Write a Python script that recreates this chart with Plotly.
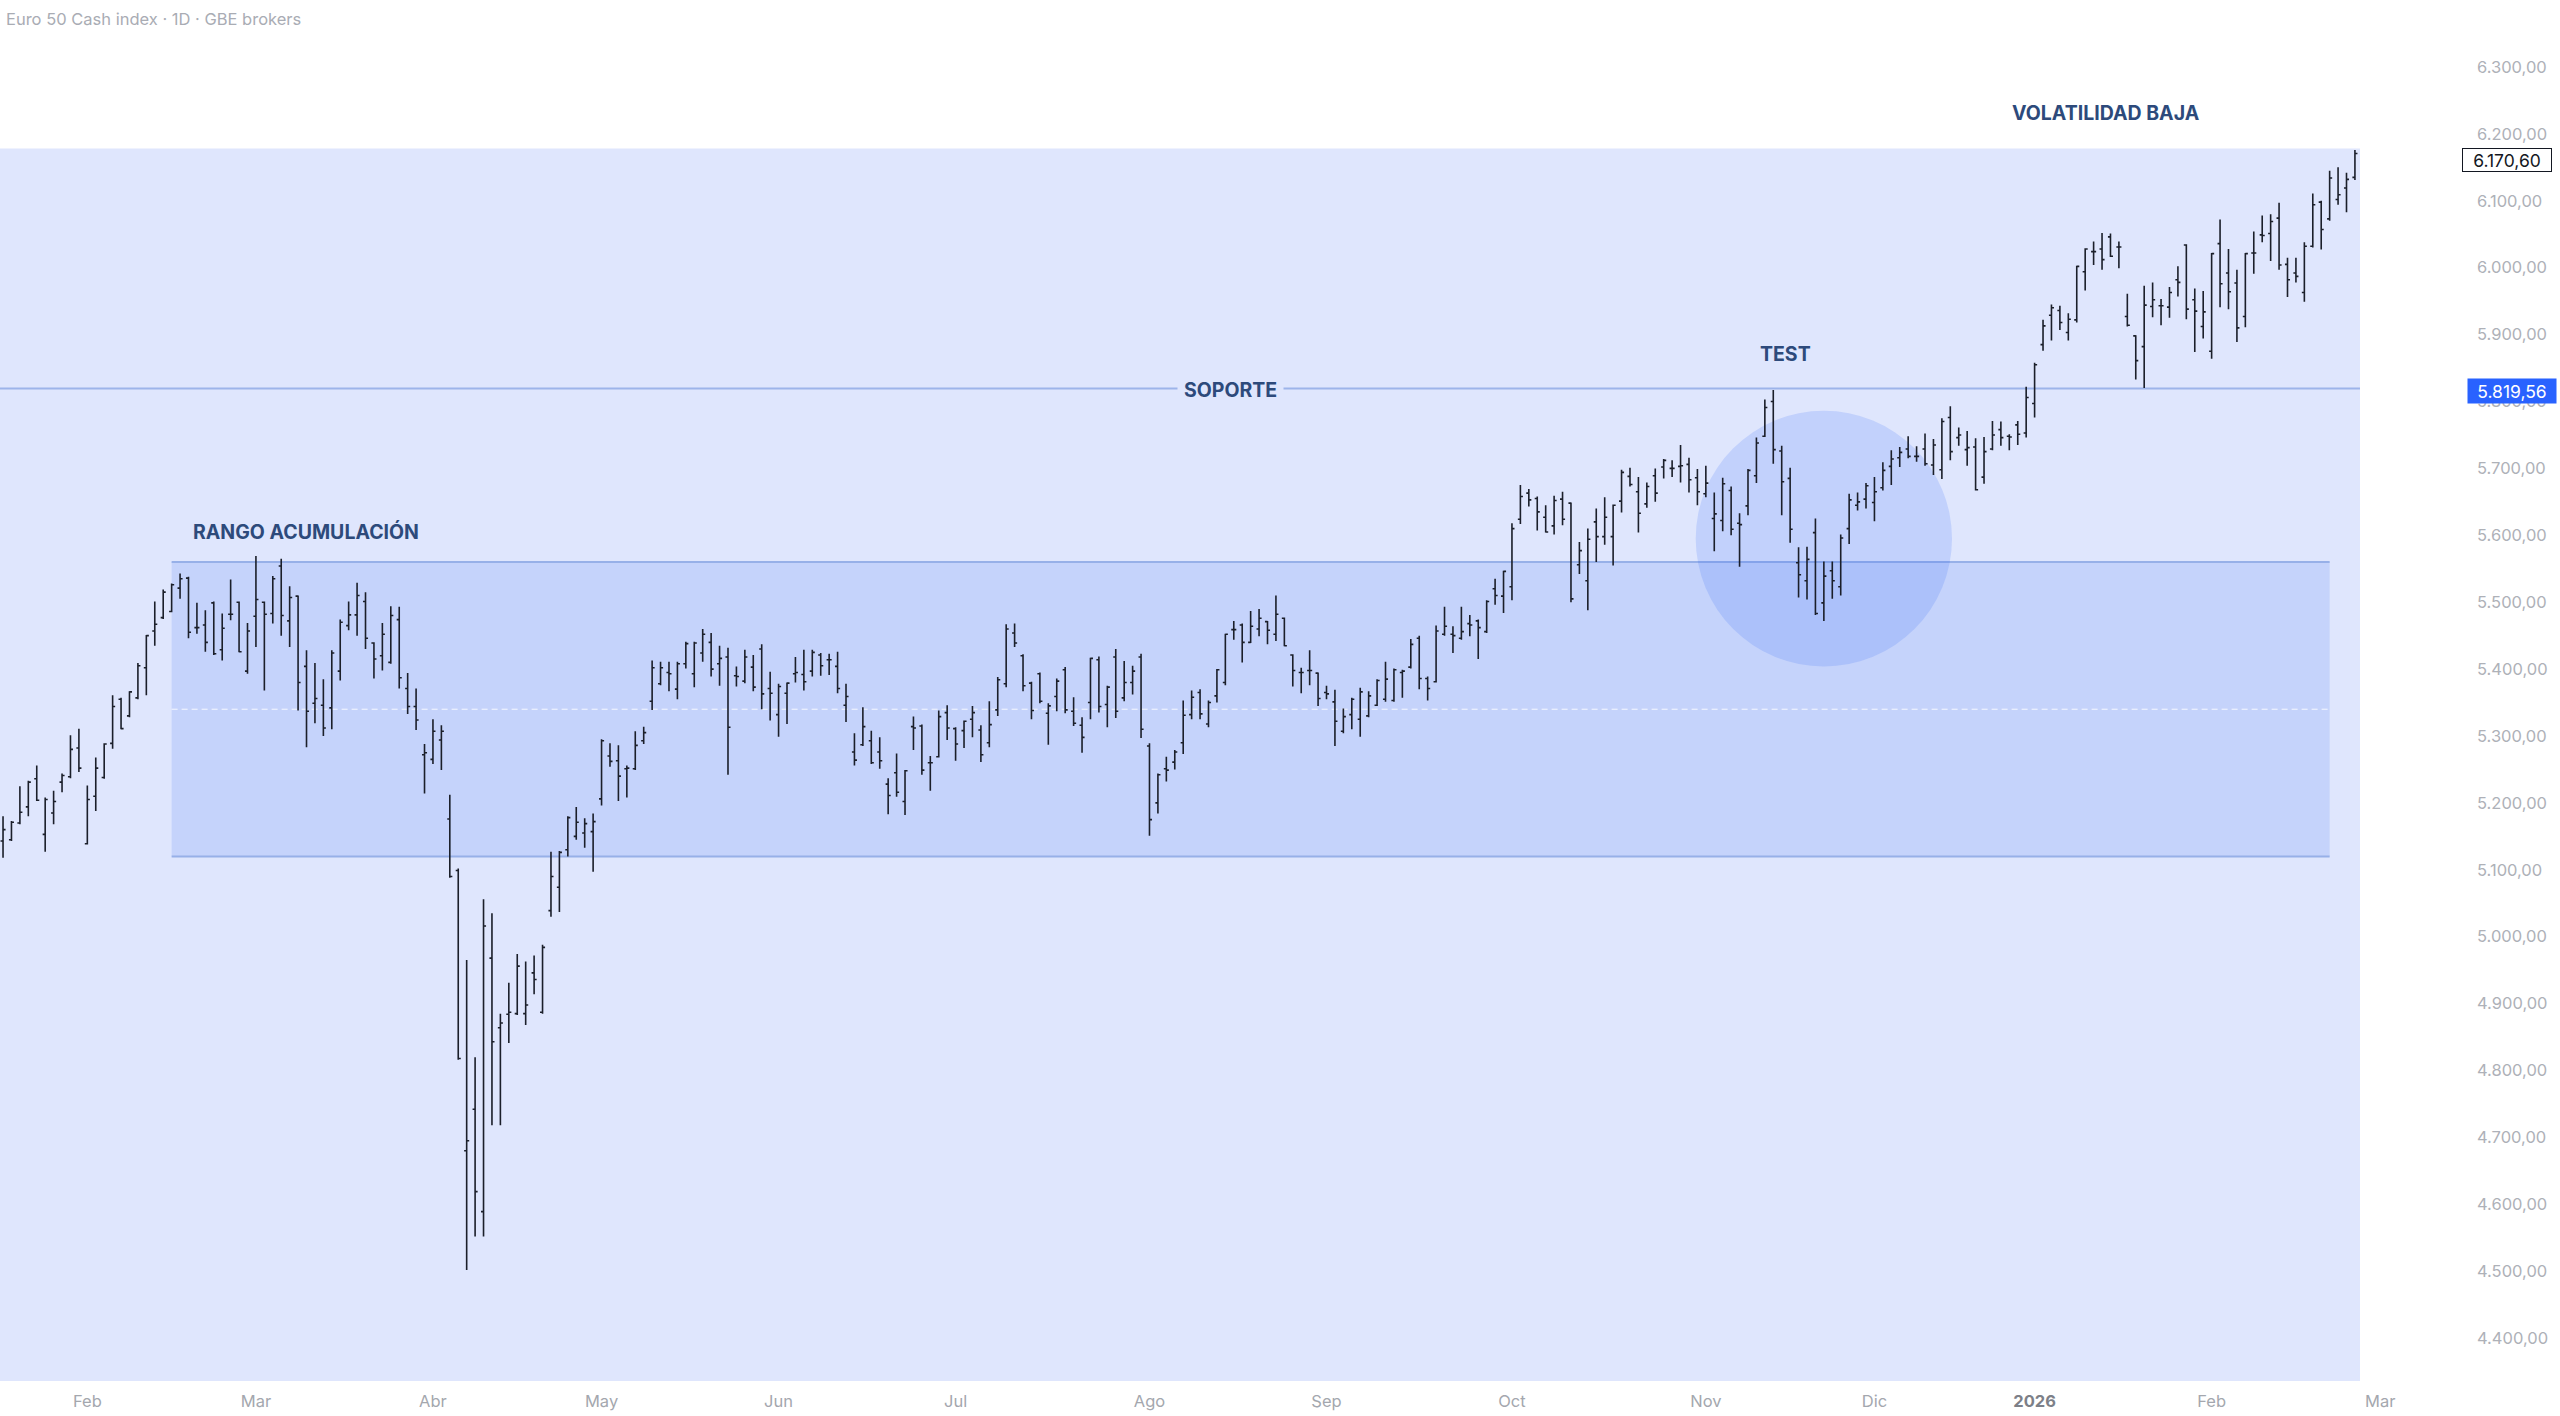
import pandas as pd
import plotly.graph_objects as go

# ---------------- data ----------------
TITLE = "Euro 50 Cash index · 1D · GBE brokers"
FIRST_DAY = "2025-01-20"
LAST_CAL_DAY = "2026-03-31"
HOLIDAYS = ["2025-04-18", "2025-04-21", "2025-05-01", "2025-12-24",
            "2025-12-25", "2025-12-26", "2025-12-31", "2026-01-01"]

OPEN = [
    5143, 5145, 5170, 5194, 5236, 5153, 5185, 5231, 5239, 5282,
    5139, 5210, 5238, 5289, 5355, 5330, 5357, 5402, 5457, 5477,
    5486, 5521, 5536, 5462, 5466, 5499, 5429, 5482, 5500, 5397,
    5479, 5500, 5483, 5554, 5472, 5509, 5404, 5349, 5346, 5342,
    5397, 5465, 5481, 5501, 5439, 5420, 5410, 5474, 5371, 5344,
    5272, 5265, 5294, 5176, 5099, 4680, 4742, 4589, 4968, 4864,
    4884, 4885, 4885, 4946, 4887, 5039, 5074, 5130, 5150, 5155,
    5157, 5206, 5270, 5263, 5251, 5251, 5293, 5352, 5378, 5395,
    5370, 5408, 5393, 5424, 5440, 5408, 5418, 5390, 5382, 5403,
    5430, 5371, 5332, 5364, 5393, 5392, 5397, 5421, 5414, 5404,
    5346, 5276, 5287, 5293, 5276, 5228, 5245, 5202, 5314, 5315,
    5260, 5269, 5335, 5311, 5308, 5325, 5309, 5290, 5339, 5378,
    5454, 5420, 5379, 5393, 5334, 5359, 5399, 5337, 5316, 5350,
    5414, 5347, 5418, 5357, 5380, 5418, 5285, 5200, 5251, 5261,
    5290, 5332, 5365, 5318, 5360, 5380, 5459, 5466, 5440, 5460,
    5471, 5452, 5476, 5421, 5395, 5398, 5394, 5365, 5351, 5307,
    5332, 5325, 5330, 5346, 5355, 5353, 5395, 5403, 5446, 5386,
    5381, 5452, 5452, 5446, 5468, 5472, 5456, 5520, 5509, 5523,
    5624, 5663, 5655, 5627, 5614, 5654, 5648, 5556, 5532, 5620,
    5598, 5598, 5651, 5688, 5665, 5647, 5689, 5702, 5700, 5703,
    5706, 5686, 5662, 5625, 5622, 5667, 5618, 5644, 5689, 5748,
    5800, 5726, 5685, 5559, 5532, 5604, 5499, 5547, 5523, 5610,
    5645, 5654, 5649, 5671, 5703, 5716, 5729, 5718, 5729, 5705,
    5698, 5776, 5746, 5728, 5732, 5687, 5729, 5758, 5748, 5765,
    5753, 5797, 5885, 5929, 5936, 5903, 5922, 5994, 6024, 6028,
    6046, 6031, 5927, 5898, 5882, 5942, 5943, 5941, 5982, 6034,
    5952, 5912, 5875, 6036, 5992, 5977, 5927, 6022, 6049, 6051,
    6074, 6005, 5992, 5963, 6032, 6098, 6073, 6102, 6119, 6135,
]
HIGH = [
    5180, 5173, 5225, 5233, 5256, 5208, 5218, 5244, 5301, 5311,
    5226, 5268, 5289, 5361, 5357, 5367, 5409, 5451, 5501, 5519,
    5528, 5543, 5538, 5499, 5488, 5501, 5483, 5534, 5501, 5469,
    5569, 5501, 5539, 5565, 5524, 5510, 5428, 5409, 5385, 5428,
    5474, 5501, 5529, 5515, 5440, 5469, 5494, 5493, 5394, 5371,
    5288, 5325, 5316, 5212, 5102, 4965, 4820, 5056, 5035, 4885,
    4931, 4974, 4963, 4972, 4988, 5127, 5128, 5180, 5194, 5177,
    5184, 5295, 5289, 5286, 5256, 5307, 5314, 5413, 5411, 5411,
    5411, 5441, 5441, 5460, 5454, 5435, 5432, 5404, 5429, 5421,
    5437, 5396, 5378, 5380, 5418, 5429, 5429, 5424, 5423, 5426,
    5378, 5304, 5343, 5308, 5298, 5237, 5274, 5249, 5329, 5317,
    5270, 5338, 5346, 5313, 5323, 5345, 5316, 5352, 5388, 5467,
    5468, 5422, 5381, 5395, 5349, 5386, 5403, 5358, 5328, 5417,
    5419, 5375, 5430, 5412, 5405, 5423, 5289, 5244, 5269, 5279,
    5353, 5368, 5370, 5353, 5400, 5453, 5472, 5468, 5487, 5490,
    5472, 5510, 5477, 5422, 5402, 5428, 5395, 5375, 5369, 5341,
    5357, 5372, 5367, 5385, 5411, 5401, 5399, 5445, 5450, 5389,
    5465, 5493, 5464, 5493, 5481, 5474, 5503, 5535, 5547, 5618,
    5675, 5669, 5658, 5645, 5659, 5665, 5649, 5590, 5610, 5640,
    5657, 5646, 5698, 5701, 5687, 5679, 5700, 5714, 5712, 5735,
    5716, 5699, 5704, 5664, 5686, 5673, 5633, 5699, 5746, 5803,
    5817, 5734, 5701, 5582, 5583, 5625, 5561, 5561, 5601, 5662,
    5664, 5678, 5687, 5709, 5727, 5732, 5748, 5733, 5752, 5744,
    5775, 5793, 5761, 5756, 5745, 5747, 5771, 5770, 5751, 5771,
    5822, 5858, 5922, 5945, 5943, 5932, 6003, 6029, 6039, 6052,
    6051, 6039, 5961, 5899, 5973, 5978, 5953, 5971, 6002, 6035,
    5969, 5965, 6022, 6072, 6028, 5997, 6022, 6054, 6078, 6080,
    6097, 6015, 6015, 6038, 6111, 6100, 6145, 6150, 6142, 6176,
]
LOW = [
    5118, 5143, 5168, 5180, 5203, 5127, 5168, 5216, 5237, 5246,
    5138, 5188, 5236, 5281, 5310, 5328, 5355, 5361, 5435, 5475,
    5485, 5505, 5446, 5453, 5426, 5421, 5413, 5473, 5425, 5393,
    5433, 5368, 5468, 5450, 5433, 5338, 5283, 5319, 5300, 5310,
    5383, 5458, 5450, 5430, 5386, 5398, 5408, 5371, 5333, 5309,
    5214, 5258, 5249, 5088, 4816, 4502, 4552, 4552, 4718, 4718,
    4841, 4883, 4868, 4914, 4885, 5030, 5037, 5120, 5145, 5133,
    5097, 5196, 5254, 5203, 5208, 5249, 5288, 5339, 5376, 5367,
    5355, 5401, 5373, 5411, 5389, 5375, 5242, 5374, 5379, 5367,
    5340, 5323, 5299, 5318, 5380, 5368, 5389, 5390, 5391, 5364,
    5321, 5256, 5285, 5258, 5251, 5183, 5209, 5182, 5279, 5242,
    5218, 5268, 5294, 5263, 5282, 5298, 5261, 5283, 5330, 5373,
    5433, 5367, 5325, 5349, 5287, 5337, 5334, 5315, 5275, 5325,
    5335, 5313, 5327, 5352, 5362, 5297, 5151, 5184, 5232, 5250,
    5273, 5325, 5325, 5313, 5350, 5376, 5444, 5410, 5439, 5449,
    5437, 5442, 5434, 5374, 5364, 5376, 5345, 5355, 5285, 5304,
    5310, 5299, 5328, 5345, 5351, 5351, 5357, 5401, 5370, 5353,
    5380, 5450, 5424, 5444, 5449, 5415, 5454, 5496, 5484, 5503,
    5617, 5643, 5607, 5604, 5601, 5615, 5500, 5542, 5488, 5560,
    5586, 5555, 5634, 5673, 5604, 5641, 5650, 5685, 5687, 5679,
    5664, 5645, 5657, 5576, 5606, 5600, 5553, 5630, 5678, 5747,
    5707, 5630, 5589, 5507, 5504, 5481, 5472, 5505, 5510, 5587,
    5637, 5640, 5621, 5667, 5675, 5702, 5715, 5710, 5704, 5690,
    5684, 5712, 5734, 5704, 5667, 5677, 5727, 5734, 5727, 5735,
    5746, 5776, 5876, 5891, 5907, 5891, 5918, 5966, 6004, 5997,
    6016, 5999, 5912, 5833, 5820, 5926, 5914, 5925, 5957, 5923,
    5874, 5894, 5864, 5941, 5938, 5889, 5911, 5991, 6038, 6010,
    5997, 5956, 5978, 5949, 6030, 6027, 6070, 6094, 6083, 6131,
]
CLOSE = [
    5160, 5171, 5186, 5231, 5204, 5205, 5202, 5241, 5280, 5252,
    5205, 5252, 5288, 5344, 5311, 5366, 5405, 5450, 5467, 5515,
    5526, 5535, 5455, 5462, 5440, 5423, 5461, 5482, 5426, 5457,
    5504, 5482, 5535, 5480, 5507, 5380, 5337, 5356, 5312, 5424,
    5470, 5481, 5510, 5446, 5415, 5452, 5480, 5387, 5344, 5324,
    5275, 5307, 5307, 5090, 4818, 4695, 4619, 5016, 4843, 4871,
    4887, 4956, 4898, 4936, 4984, 5090, 5126, 5178, 5171, 5169,
    5172, 5293, 5262, 5240, 5252, 5286, 5305, 5402, 5402, 5393,
    5408, 5438, 5439, 5452, 5400, 5416, 5313, 5389, 5418, 5373,
    5363, 5364, 5374, 5379, 5395, 5381, 5425, 5405, 5414, 5371,
    5359, 5264, 5314, 5260, 5263, 5211, 5216, 5248, 5312, 5249,
    5260, 5329, 5312, 5288, 5322, 5335, 5272, 5317, 5384, 5460,
    5439, 5375, 5338, 5352, 5345, 5382, 5339, 5319, 5298, 5416,
    5344, 5373, 5337, 5380, 5397, 5310, 5175, 5242, 5249, 5276,
    5331, 5358, 5333, 5350, 5399, 5452, 5459, 5440, 5464, 5476,
    5458, 5482, 5435, 5398, 5395, 5398, 5356, 5363, 5322, 5329,
    5355, 5366, 5360, 5383, 5385, 5399, 5397, 5437, 5386, 5371,
    5457, 5464, 5450, 5456, 5466, 5462, 5501, 5510, 5546, 5610,
    5658, 5653, 5635, 5605, 5652, 5624, 5505, 5577, 5594, 5598,
    5627, 5645, 5694, 5676, 5633, 5673, 5663, 5712, 5700, 5704,
    5683, 5665, 5678, 5632, 5677, 5609, 5616, 5697, 5738, 5791,
    5728, 5680, 5609, 5541, 5564, 5483, 5539, 5532, 5596, 5653,
    5650, 5674, 5665, 5697, 5714, 5724, 5718, 5718, 5707, 5735,
    5770, 5725, 5750, 5731, 5668, 5725, 5750, 5746, 5747, 5751,
    5806, 5855, 5913, 5940, 5918, 5923, 6002, 6028, 6024, 6012,
    6017, 6031, 5914, 5861, 5944, 5952, 5943, 5963, 5978, 5938,
    5935, 5934, 6021, 5976, 5964, 5910, 6021, 6022, 6048, 6069,
    6004, 5982, 5987, 6032, 6094, 6057, 6134, 6109, 6132, 6170.6,
]

MONTH_KEYS = ["2025-02", "2025-03", "2025-04", "2025-05", "2025-06", "2025-07",
              "2025-08", "2025-09", "2025-10", "2025-11", "2025-12", "2026-01",
              "2026-02", "2026-03"]
MONTH_LABELS = ["Feb", "Mar", "Abr", "May", "Jun", "Jul", "Ago", "Sep", "Oct",
                "Nov", "Dic", "2026", "Feb", "Mar"]
PRICE_TICKS = [4400, 4500, 4600, 4700, 4800, 4900, 5000, 5100, 5200, 5300,
               5400, 5500, 5600, 5700, 5800, 5900, 6000, 6100, 6200, 6300]

SUPPORT = 5819.56
LAST_PRICE = 6170.60
RANGE_TOP = 5560
RANGE_BOTTOM = 5120
RANGE_FROM = "2025-02-17"
RANGE_TO = "2026-02-20"
ZONE_TOP = 6178
TEST_DAY = "2025-11-21"
TEST_PRICE = 5595

# ---------------- build ----------------
all_days = [d for d in pd.bdate_range(FIRST_DAY, LAST_CAL_DAY)
            if d.strftime("%Y-%m-%d") not in HOLIDAYS]
day_str = [d.strftime("%Y-%m-%d") for d in all_days]
n = len(CLOSE)
idx = list(range(n))
dates = day_str[:n]

tickvals = []
for key in MONTH_KEYS:
    tickvals.append(next(i for i, s in enumerate(day_str) if s.startswith(key)))
ticktext = [("<span style='color:#7d8088'><b>%s</b></span>" % t) if t == "2026" else t
            for t in MONTH_LABELS]

def pos(day):
    return day_str.index(day)

NAVY = "#2d4a7b"
FONT = "Inter"
ZONE_FILL = "#dfe6fd"
RANGE_FILL = "#c5d3fb"
EDGE = "#97b0e8"

fig = go.Figure()
fig.add_trace(go.Ohlc(
    x=idx, open=OPEN, high=HIGH, low=LOW, close=CLOSE,
    text=dates, hoverinfo="text",
    increasing=dict(line=dict(color="#1b1f2a", width=1.6)),
    decreasing=dict(line=dict(color="#1b1f2a", width=1.6)),
    tickwidth=0.3, showlegend=False,
))

x_left = -10
x_right = n - 1 + 0.6
shapes = [
    dict(type="rect", xref="x", yref="y", x0=x_left, x1=x_right, y0=4000, y1=ZONE_TOP,
         fillcolor=ZONE_FILL, line=dict(width=0), layer="below"),
    dict(type="rect", xref="x", yref="y", x0=pos(RANGE_FROM), x1=pos(RANGE_TO),
         y0=RANGE_BOTTOM, y1=RANGE_TOP, fillcolor=RANGE_FILL, line=dict(width=0), layer="below"),
    dict(type="line", xref="x", yref="y", x0=pos(RANGE_FROM), x1=pos(RANGE_TO),
         y0=RANGE_TOP, y1=RANGE_TOP, line=dict(color=EDGE, width=2), layer="below"),
    dict(type="line", xref="x", yref="y", x0=pos(RANGE_FROM), x1=pos(RANGE_TO),
         y0=RANGE_BOTTOM, y1=RANGE_BOTTOM, line=dict(color=EDGE, width=2), layer="below"),
    dict(type="line", xref="x", yref="y", x0=pos(RANGE_FROM), x1=pos(RANGE_TO),
         y0=(RANGE_TOP + RANGE_BOTTOM) / 2, y1=(RANGE_TOP + RANGE_BOTTOM) / 2,
         line=dict(color="rgba(255,255,255,0.85)", width=1, dash="6px,4px"), layer="below"),
    dict(type="line", xref="x", yref="y", x0=x_left, x1=x_right,
         y0=SUPPORT, y1=SUPPORT, line=dict(color="#9db4ea", width=2), layer="below"),
    dict(type="circle", xref="x", yref="y",
         x0=pos(TEST_DAY) - 15.2, x1=pos(TEST_DAY) + 15.2,
         y0=TEST_PRICE - 191, y1=TEST_PRICE + 191,
         fillcolor="rgba(45,100,250,0.16)", line=dict(width=0), layer="below"),
]

label_font = dict(family=FONT, size=19.5, color=NAVY, weight=700)
annotations = [
    dict(text=TITLE, xref="paper", yref="paper", x=0, y=1, xanchor="left", yanchor="middle",
         xshift=4, yshift=-19, showarrow=False,
         font=dict(family=FONT, size=16.5, color="#a9acb4")),
    dict(text="RANGO ACUMULACIÓN", xref="x", yref="y", x=22.3, y=5605,
         xanchor="left", yanchor="middle", showarrow=False, font=label_font),
    dict(text="SOPORTE", xref="x", yref="y", x=145.6, y=SUPPORT,
         xanchor="center", yanchor="middle", yshift=-2, showarrow=False, font=label_font,
         bgcolor=ZONE_FILL, borderpad=6),
    dict(text="TEST", xref="x", yref="y", x=211.4, y=5871,
         xanchor="center", yanchor="middle", showarrow=False, font=label_font),
    dict(text="VOLATILIDAD BAJA", xref="x", yref="y", x=249.5, y=6231,
         xanchor="center", yanchor="middle", showarrow=False, font=label_font),
    dict(text="6.170,60", xref="paper", yref="y", x=1, y=LAST_PRICE,
         xanchor="left", yanchor="middle", xshift=-8, yshift=-6, showarrow=False,
         width=88, height=22, borderpad=0, bgcolor="white",
         bordercolor="#131722", borderwidth=1,
         font=dict(family=FONT, size=17.5, color="#131722")),
    dict(text="5.819,56", xref="paper", yref="y", x=1, y=SUPPORT,
         xanchor="left", yanchor="middle", xshift=-3, yshift=-3, showarrow=False,
         width=88, height=24, borderpad=0, bgcolor="#2962ff",
         font=dict(family=FONT, size=17.5, color="white")),
]

fig.update_layout(
    width=2560, height=1416,
    margin=dict(l=0, r=90, t=0, b=35, pad=0),
    paper_bgcolor="white", plot_bgcolor="white",
    separators=",.",
    font=dict(family=FONT),
    shapes=shapes, annotations=annotations,
    showlegend=False,
    xaxis=dict(range=[-0.36, 292.65], tickmode="array", tickvals=tickvals, ticktext=ticktext,
               showgrid=False, zeroline=False, showline=False, ticks="",
               rangeslider=dict(visible=False), ticklabelstandoff=8,
               tickfont=dict(family=FONT, size=16.5, color="#a4a7ae")),
    yaxis=dict(range=[4335.9, 6400.1], side="right", tickmode="array", tickvals=PRICE_TICKS,
               tickformat=",.2f", showgrid=False, zeroline=False, showline=False, ticks="",
               ticklabelstandoff=6,
               tickfont=dict(family=FONT, size=16.5, color="#aeb1b8")),
)

fig.write_html("out.html", config={"displayModeBar": False},
               post_script="document.body.style.margin='0';document.body.style.overflow='hidden';")
